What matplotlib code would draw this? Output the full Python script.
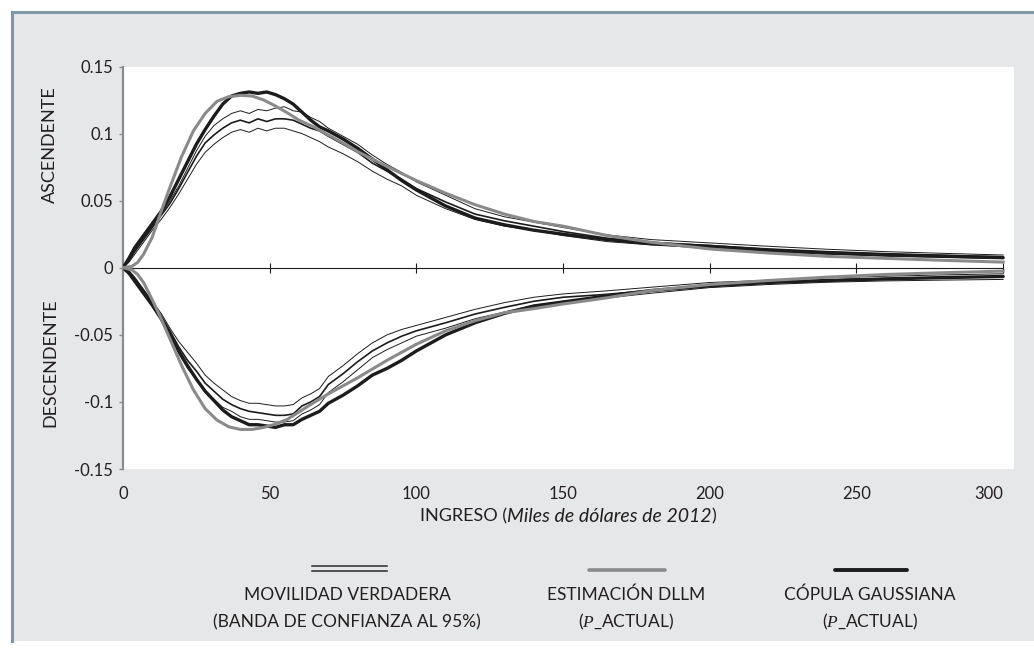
"""Movilidad ascendente / descendente por ingreso: DLLM vs. cópula gaussiana."""

import matplotlib
matplotlib.use("Agg")
import matplotlib.pyplot as plt
from matplotlib.lines import Line2D
from matplotlib.patches import Rectangle
from matplotlib.offsetbox import TextArea, HPacker, AnnotationBbox

plt.rcParams["font.family"] = ["Lato", "DejaVu Sans"]
plt.rcParams["mathtext.fontset"] = "custom"
plt.rcParams["mathtext.it"] = "Liberation Serif:italic"
plt.rcParams["mathtext.rm"] = "Lato"

# ---- data ---------------------------------------------------------------
X_EMP = [0, 2, 4, 6, 8, 10, 13, 16, 19, 22, 25, 28, 31, 34, 37, 40, 43, 46, 49,
         52, 55, 58, 61, 64, 67, 70, 75, 80, 85, 90, 95, 100, 110, 120, 130,
         140, 150, 165, 180, 200, 220, 240, 260, 280, 300]
X_DLLM = [0, 3, 5, 7, 10, 13, 16, 20, 24, 28, 32, 36, 40, 44, 48, 52, 56, 60,
          65, 70, 75, 80, 90, 100, 110, 120, 130, 140, 150, 165, 180, 200, 220,
          240, 260, 280, 300]

# ascendente
up_true = [0, 0.005, 0.012, 0.018, 0.024, 0.030, 0.039, 0.048, 0.059, 0.071,
           0.083, 0.093, 0.099, 0.104, 0.108, 0.110, 0.108, 0.111, 0.109, 0.111,
           0.111, 0.110, 0.107, 0.104, 0.102, 0.098, 0.092, 0.086, 0.078, 0.072,
           0.066, 0.059, 0.049, 0.040, 0.035, 0.031, 0.027, 0.022, 0.019, 0.0165,
           0.014, 0.012, 0.0105, 0.0093, 0.0082]
up_true_hi = [0, 0.006, 0.013, 0.019, 0.025, 0.031, 0.040, 0.050, 0.061, 0.074,
              0.087, 0.098, 0.106, 0.111, 0.115, 0.117, 0.115, 0.118, 0.117, 0.119,
              0.120, 0.117, 0.116, 0.112, 0.109, 0.104, 0.098, 0.092, 0.084, 0.077,
              0.071, 0.064, 0.054, 0.044, 0.038, 0.034, 0.030, 0.0245, 0.021, 0.0185,
              0.016, 0.0138, 0.012, 0.0107, 0.0095]
up_true_lo = [0, 0.004, 0.010, 0.016, 0.022, 0.028, 0.036, 0.045, 0.055, 0.066,
              0.077, 0.086, 0.092, 0.097, 0.101, 0.103, 0.101, 0.104, 0.102, 0.104,
              0.104, 0.102, 0.100, 0.097, 0.094, 0.090, 0.085, 0.079, 0.072, 0.066,
              0.061, 0.054, 0.044, 0.036, 0.031, 0.028, 0.024, 0.0195, 0.017, 0.0145,
              0.012, 0.0102, 0.0088, 0.0078, 0.0068]
up_copula = [0, 0.007, 0.015, 0.021, 0.027, 0.033, 0.042, 0.053, 0.066, 0.079,
             0.092, 0.103, 0.113, 0.122, 0.128, 0.130, 0.131, 0.130, 0.131, 0.129,
             0.126, 0.122, 0.116, 0.110, 0.105, 0.102, 0.096, 0.089, 0.081, 0.073,
             0.065, 0.058, 0.046, 0.037, 0.032, 0.028, 0.025, 0.021, 0.018, 0.016,
             0.013, 0.011, 0.0095, 0.0085, 0.0075]
up_dllm = [0, 0.001, 0.004, 0.010, 0.023, 0.042, 0.060, 0.083, 0.102, 0.115,
           0.124, 0.1275, 0.1285, 0.128, 0.125, 0.1205, 0.1155, 0.110, 0.105, 0.099,
           0.093, 0.0865, 0.0755, 0.065, 0.0555, 0.047, 0.040, 0.0345, 0.031, 0.024,
           0.019, 0.014, 0.011, 0.0085, 0.007, 0.0055, 0.0042]

# descendente
down_true = [0, -0.003, -0.008, -0.014, -0.020, -0.026, -0.036, -0.047, -0.059, -0.069,
             -0.077, -0.086, -0.092, -0.098, -0.102, -0.105, -0.107, -0.108, -0.109, -0.110,
             -0.110, -0.109, -0.103, -0.100, -0.096, -0.087, -0.079, -0.070, -0.062, -0.056,
             -0.051, -0.047, -0.041, -0.0345, -0.0295, -0.025, -0.022, -0.0198, -0.0168, -0.0129,
             -0.0109, -0.0092, -0.0081, -0.0073, -0.0066]
down_true_hi = [0, -0.002, -0.007, -0.013, -0.019, -0.025, -0.034, -0.045, -0.055, -0.063,
                -0.071, -0.080, -0.086, -0.091, -0.096, -0.099, -0.101, -0.101, -0.102, -0.103,
                -0.103, -0.102, -0.097, -0.094, -0.090, -0.081, -0.073, -0.064, -0.056, -0.050,
                -0.046, -0.043, -0.037, -0.031, -0.026, -0.022, -0.0195, -0.0172, -0.0145, -0.011,
                -0.0093, -0.0075, -0.0063, -0.0053, -0.0045]
down_true_lo = [0, -0.004, -0.009, -0.015, -0.021, -0.027, -0.038, -0.050, -0.064, -0.075,
                -0.083, -0.092, -0.098, -0.104, -0.107, -0.111, -0.113, -0.113, -0.114, -0.115,
                -0.115, -0.114, -0.109, -0.106, -0.102, -0.093, -0.085, -0.076, -0.067, -0.061,
                -0.056, -0.051, -0.045, -0.038, -0.033, -0.028, -0.025, -0.0225, -0.019, -0.0148,
                -0.0125, -0.0108, -0.0098, -0.0092, -0.0087]
down_copula = [0, -0.004, -0.010, -0.016, -0.022, -0.028, -0.038, -0.050, -0.062, -0.073,
               -0.083, -0.092, -0.099, -0.106, -0.111, -0.114, -0.117, -0.117, -0.118, -0.119,
               -0.117, -0.117, -0.113, -0.110, -0.107, -0.101, -0.095, -0.088, -0.080, -0.075,
               -0.069, -0.062, -0.050, -0.041, -0.034, -0.0285, -0.0255, -0.021, -0.017, -0.0135,
               -0.011, -0.0095, -0.0083, -0.0073, -0.0065]
down_dllm = [0, -0.0015, -0.005, -0.011, -0.024, -0.038, -0.053, -0.073, -0.091, -0.105,
             -0.1135, -0.1185, -0.1205, -0.1205, -0.119, -0.1165, -0.113, -0.1075, -0.1005, -0.094,
             -0.088, -0.082, -0.069, -0.057, -0.047, -0.0395, -0.0335, -0.0305, -0.027, -0.0224,
             -0.017, -0.0125, -0.0095, -0.007, -0.005, -0.0037, -0.0025]

X_TICKS = [0, 50, 100, 150, 200, 250, 300]
Y_TICKS = [-0.15, -0.1, -0.05, 0, 0.05, 0.1, 0.15]
Y_LABELS = ["-0.15", "-0.1", "-0.05", "0", "0.05", "0.1", "0.15"]

LEGEND_LINE1 = ["MOVILIDAD VERDADERA", "ESTIMACIÓN DLLM", "CÓPULA GAUSSIANA"]
LEGEND_LINE2 = ["(BANDA DE CONFIANZA AL 95%)", "($P$_ACTUAL)", "($P$_ACTUAL)"]

# ---- style ----------------------------------------------------------------
W, H = 1034, 649
PANEL = "#e6e7e8"
FRAME = "#7d98a6"
TXT = "#231f20"
GREY = "#8a8a8a"
BLACK = "#1c1c1c"


def fx(px):
    return px / W


def fy(py):
    return 1 - py / H


fig = plt.figure(figsize=(W / 100, H / 100), dpi=100, facecolor="white")

# grey panel with blue-grey frame on left / top
fig.patches.append(Rectangle((fx(12), fy(641)), fx(1034) - fx(12), fy(12) - fy(641),
                             transform=fig.transFigure, facecolor=PANEL,
                             edgecolor="none", zorder=-5))
fig.add_artist(Line2D([fx(12), fx(12)], [fy(641), fy(12)], color=FRAME, lw=2.2, zorder=-4))
fig.add_artist(Line2D([fx(12), fx(1034)], [fy(12), fy(12)], color=FRAME, lw=2.2, zorder=-4))

ax = fig.add_axes([fx(123), fy(469), fx(1014) - fx(123), fy(66.5) - fy(469)])
ax.set_zorder(1)
ax.set_facecolor("white")
ax.set_xlim(0, 303.7)
ax.set_ylim(-0.15, 0.15)

# curves
for band in (up_true_hi, up_true_lo, down_true_hi, down_true_lo):
    ax.plot(X_EMP, band, color=BLACK, lw=0.7, zorder=3)
ax.plot(X_EMP, up_true, color=BLACK, lw=1.2, zorder=3)
ax.plot(X_EMP, down_true, color=BLACK, lw=1.2, zorder=3)
ax.plot(X_EMP, up_copula, color=BLACK, lw=2.4, zorder=4, solid_capstyle="round")
ax.plot(X_EMP, down_copula, color=BLACK, lw=2.4, zorder=4, solid_capstyle="round")
ax.plot(X_DLLM, up_dllm, color=GREY, lw=2.2, zorder=5)
ax.plot(X_DLLM, down_dllm, color=GREY, lw=2.2, zorder=5)

# axes
for side in ("top", "right"):
    ax.spines[side].set_visible(False)
ax.spines["left"].set_color("#8c8c8c")
ax.spines["left"].set_linewidth(1.6)
ax.spines["bottom"].set_position(("data", 0))
ax.spines["bottom"].set_bounds(0, 300)
ax.spines["bottom"].set_linewidth(0.8)
ax.spines["bottom"].set_color(BLACK)
ax.spines["bottom"].set_zorder(2)

ax.set_xticks(X_TICKS)
ax.tick_params(axis="x", direction="inout", length=7, width=0.8, color=BLACK,
               labelbottom=False)
ax.set_yticks(Y_TICKS, labels=Y_LABELS)
ax.tick_params(axis="y", direction="out", length=3, width=1, color="#8c8c8c",
               labelsize=12, labelcolor=TXT, pad=4)

sec = ax.secondary_xaxis("bottom")
sec.set_xticks(X_TICKS, labels=[str(t) for t in X_TICKS])
sec.tick_params(length=0, pad=12, labelsize=12, labelcolor=TXT)
sec.spines["bottom"].set_visible(False)
sec.get_xticklabels()[-1].set_horizontalalignment("right")

# axis titles
fig.text(fx(50), fy(145), "ASCENDENTE", rotation=90, ha="center", va="center",
         fontsize=13, color=TXT)
fig.text(fx(50), fy(363), "DESCENDENTE", rotation=90, ha="center", va="center",
         fontsize=13, color=TXT)

xlabel = HPacker(children=[
    TextArea("INGRESO (", textprops=dict(fontsize=13, color=TXT)),
    TextArea("Miles de dólares de 2012", textprops=dict(fontsize=14, style="italic", color=TXT)),
    TextArea(")", textprops=dict(fontsize=13, color=TXT)),
], align="baseline", pad=0, sep=0)
fig.add_artist(AnnotationBbox(xlabel, (fx(568), fy(516)), xycoords="figure fraction",
                              frameon=False, box_alignment=(0.5, 0.5)))

# legend (line sample above, two text lines below)
centers = [347, 626, 870]
fig.add_artist(Line2D([fx(312), fx(387)], [fy(565.5), fy(565.5)], color="#2a2a2a", lw=1.1))
fig.add_artist(Line2D([fx(312), fx(387)], [fy(570.5), fy(570.5)], color="#2a2a2a", lw=1.1))
fig.add_artist(Line2D([fx(589), fx(665)], [fy(570), fy(570)], color=GREY, lw=2.6,
                      solid_capstyle="round"))
fig.add_artist(Line2D([fx(835), fx(907)], [fy(570), fy(570)], color=BLACK, lw=2.8,
                      solid_capstyle="round"))
for cx, l1, l2 in zip(centers, LEGEND_LINE1, LEGEND_LINE2):
    fig.text(fx(cx), fy(595), l1, ha="center", va="center", fontsize=12.5, color=TXT)
    fig.text(fx(cx), fy(622), l2, ha="center", va="center", fontsize=12.5, color=TXT)

fig.savefig("out.png", dpi=100, facecolor=fig.get_facecolor())
